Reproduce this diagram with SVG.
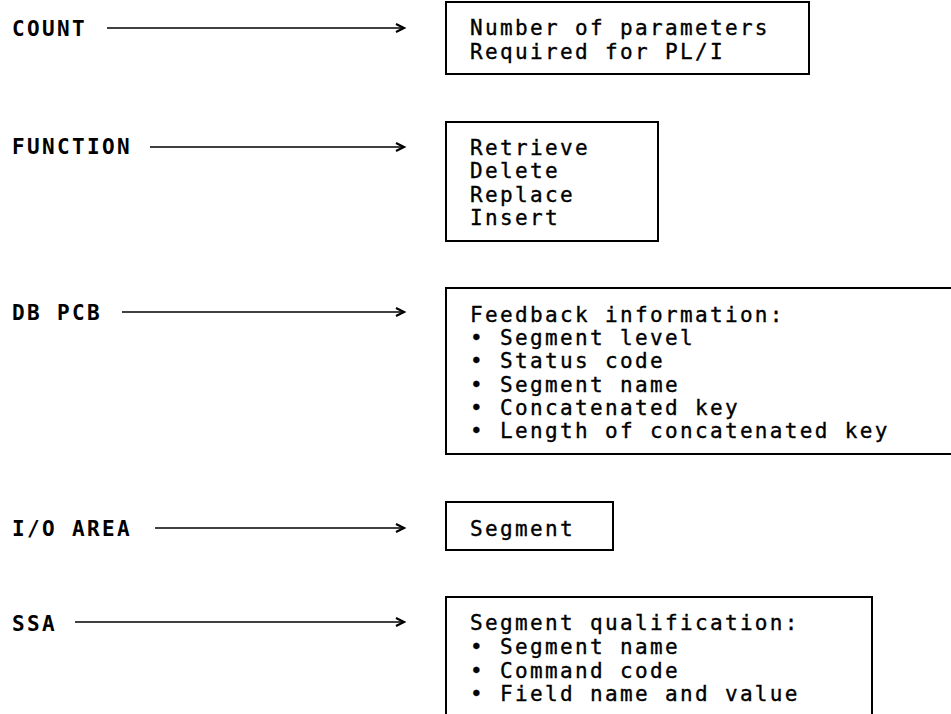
<svg xmlns="http://www.w3.org/2000/svg" width="951" height="714" viewBox="0 0 951 714">
  <style>
    .lbl { font-family: "DejaVu Sans Mono", "Liberation Mono", monospace; font-size: 21px; font-weight: bold; letter-spacing: 2.35px; fill: #000; }
    .txt { font-family: "DejaVu Sans Mono", "Liberation Mono", monospace; font-size: 21px; letter-spacing: 2.35px; fill: #000; stroke: #000; stroke-width: 0.35; }
    .box { fill: none; stroke: #000; stroke-width: 2; }
    .conn line { stroke: #000; stroke-width: 1.6; }
    .conn polyline { fill: none; stroke: #000; stroke-width: 2.2; }
  </style>
  <rect width="951" height="714" fill="#fff"/>

  <!-- parameter labels -->
  <g id="label-count"><text class="lbl" x="12" y="36">COUNT</text></g>
  <g id="label-function"><text class="lbl" x="12" y="154">FUNCTION</text></g>
  <g id="label-dbpcb"><text class="lbl" x="12" y="320">DB PCB</text></g>
  <g id="label-ioarea"><text class="lbl" x="12" y="536">I/O AREA</text></g>
  <g id="label-ssa"><text class="lbl" x="12" y="631">SSA</text></g>

  <!-- connectors: line ending in an open chevron -->
  <g class="conn" id="connectors">
    <line x1="107" y1="28" x2="404" y2="28"/><polyline points="396,24 404,28 396,32"/>
    <line x1="150" y1="147" x2="404" y2="147"/><polyline points="396,143 404,147 396,151"/>
    <line x1="122" y1="312" x2="404" y2="312"/><polyline points="396,308 404,312 396,316"/>
    <line x1="155" y1="528" x2="404" y2="528"/><polyline points="396,524 404,528 396,532"/>
    <line x1="75" y1="622" x2="404" y2="622"/><polyline points="396,618 404,622 396,626"/>
  </g>

  <!-- description boxes -->
  <g id="box-count">
    <rect class="box" x="446" y="2" width="363" height="72"/>
    <text class="txt" x="470" y="35">Number of parameters</text>
    <text class="txt" x="470" y="59">Required for PL/I</text>
  </g>

  <g id="box-function">
    <rect class="box" x="446" y="122" width="212" height="119"/>
    <text class="txt" x="470" y="155">Retrieve</text>
    <text class="txt" x="470" y="178">Delete</text>
    <text class="txt" x="470" y="202">Replace</text>
    <text class="txt" x="470" y="225">Insert</text>
  </g>

  <g id="box-dbpcb">
    <rect class="box" x="446" y="288" width="520" height="166"/>
    <text class="txt" x="470" y="322">Feedback information:</text>
    <text class="txt" x="470" y="345">• Segment level</text>
    <text class="txt" x="470" y="368">• Status code</text>
    <text class="txt" x="470" y="392">• Segment name</text>
    <text class="txt" x="470" y="415">• Concatenated key</text>
    <text class="txt" x="470" y="438">• Length of concatenated key</text>
  </g>

  <g id="box-ioarea">
    <rect class="box" x="446" y="502" width="167" height="48"/>
    <text class="txt" x="470" y="536">Segment</text>
  </g>

  <g id="box-ssa">
    <rect class="box" x="446" y="597" width="426" height="140"/>
    <text class="txt" x="470" y="630">Segment qualification:</text>
    <text class="txt" x="470" y="654">• Segment name</text>
    <text class="txt" x="470" y="678">• Command code</text>
    <text class="txt" x="470" y="701">• Field name and value</text>
  </g>
</svg>
